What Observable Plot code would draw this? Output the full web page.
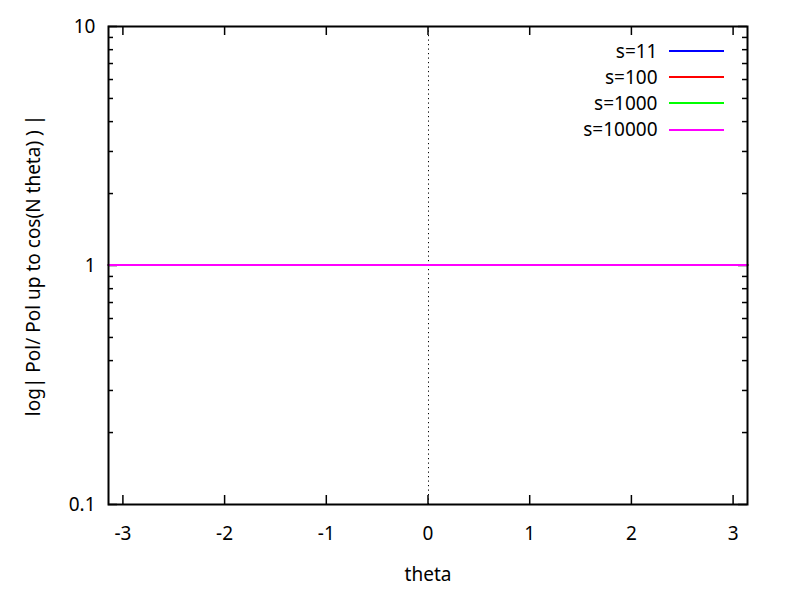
<!DOCTYPE html>
<html>
<head>
<meta charset="utf-8">
<script src="https://cdn.jsdelivr.net/npm/d3@7"></script>
<script src="https://cdn.jsdelivr.net/npm/@observablehq/plot@0.6"></script>
<style>
  html, body { margin: 0; padding: 0; background: #fff; }
  #chart { width: 789px; height: 591px; }
</style>
</head>
<body>
<div id="chart"></div>
<script>
// ---- data ----
const theta = [-3.14159, -2, -1, 0, 1, 2, 3.14159];
const s11    = [1, 1, 1, 1, 1, 1, 1];
const s100   = [1, 1, 1, 1, 1, 1, 1];
const s1000  = [1, 1, 1, 1, 1, 1, 1];
const s10000 = [1, 1, 1, 1, 1, 1, 1];
const seriesNames  = ["s=11", "s=100", "s=1000", "s=10000"];
const seriesColors = ["#0000ff", "#ff0000", "#00ff00", "#ff00ff"];
const seriesValues = [s11, s100, s1000, s10000];
const xTicks = [-3, -2, -1, 0, 1, 2, 3];
const yTicks = [0.1, 1, 10];
const yMinorTicks = [0.2, 0.3, 0.4, 0.5, 0.6, 0.7, 0.8, 0.9, 2, 3, 4, 5, 6, 7, 8, 9];
const zeroLine = [0];
const xLabel = "theta";
const yLabel = "log| Pol/ Pol up to cos(N theta) ) |";

// ---- layout ----
const W = 789, H = 591;
const mT = 26, mB = 87, mL = 108, mR = 42;
const fw = W - mL - mR, fh = H - mT - mB;
const major = 9, minor = 5;

const table = seriesValues.map((vals, i) =>
  theta.map((t, j) => ({theta: t, value: vals[j], series: seriesNames[i]}))
);

const plot = Plot.plot({
  width: W, height: H,
  marginTop: mT, marginBottom: mB, marginLeft: mL, marginRight: mR,
  style: {fontFamily: "'Noto Sans', 'Open Sans', sans-serif", fontSize: "19px", background: "#fff", color: "#000"},
  x: {domain: [-Math.PI, Math.PI], axis: null},
  y: {type: "log", domain: [0.1, 10], axis: null},
  marks: [
    Plot.ruleX(zeroLine, {x: d => d, dx: 0.5, stroke: "#000", strokeWidth: 1, strokeDasharray: "1.2,3.3"}),
    // x ticks (bottom and top, inward)
    Plot.tickX(xTicks, {x: d => d, insetTop: fh - major, stroke: "#000", strokeWidth: 1.5}),
    Plot.tickX(xTicks, {x: d => d, insetBottom: fh - major, stroke: "#000", strokeWidth: 1.5}),
    // y ticks (left and right, inward)
    Plot.tickY(yTicks, {y: d => d, insetRight: fw - major, stroke: "#000", strokeWidth: 1.5}),
    Plot.tickY(yTicks, {y: d => d, insetLeft: fw - major, stroke: "#000", strokeWidth: 1.5}),
    Plot.tickY(yMinorTicks, {y: d => d, insetRight: fw - minor, stroke: "#000", strokeWidth: 1.5}),
    Plot.tickY(yMinorTicks, {y: d => d, insetLeft: fw - minor, stroke: "#000", strokeWidth: 1.5}),
    // tick labels
    Plot.axisX(xTicks, {anchor: "bottom", tickSize: 0, tickPadding: 22, tickFormat: d => String(d), label: null, fill: "#000"}),
    Plot.axisY(yTicks, {anchor: "left", tickSize: 0, tickPadding: 13, tickFormat: d => String(d), label: null, fill: "#000"}),
    // axis titles
    Plot.text([xLabel], {text: d => d, frameAnchor: "bottom", dy: 70, lineAnchor: "middle", textAnchor: "middle", fill: "#000"}),
    Plot.text([yLabel], {text: d => d, frameAnchor: "left", dx: -75, rotate: -90, lineAnchor: "middle", textAnchor: "middle", fill: "#000"}),
    // series
    ...table.map((rows, i) => Plot.line(rows, {x: "theta", y: "value", dy: -0.5, stroke: seriesColors[i], strokeWidth: 2})),
    // legend text
    ...seriesNames.map((name, i) => Plot.text([name], {text: d => d, frameAnchor: "top-right", textAnchor: "end", lineAnchor: "middle", dx: -90, dy: 25 + 26.2 * i, fill: "#000"})),
    Plot.frame({stroke: "#000", strokeWidth: 2})
  ]
});

// legend sample lines
const svg = d3.select(plot);
const lg = svg.append("g");
seriesNames.forEach((name, i) => {
  const y = Math.round(mT + 25 + 26.2 * i);
  lg.append("line")
    .attr("x1", W - mR - 78).attr("x2", W - mR - 23)
    .attr("y1", y).attr("y2", y)
    .attr("stroke", seriesColors[i]).attr("stroke-width", 2);
});

document.getElementById("chart").appendChild(plot);
</script>
</body>
</html>
